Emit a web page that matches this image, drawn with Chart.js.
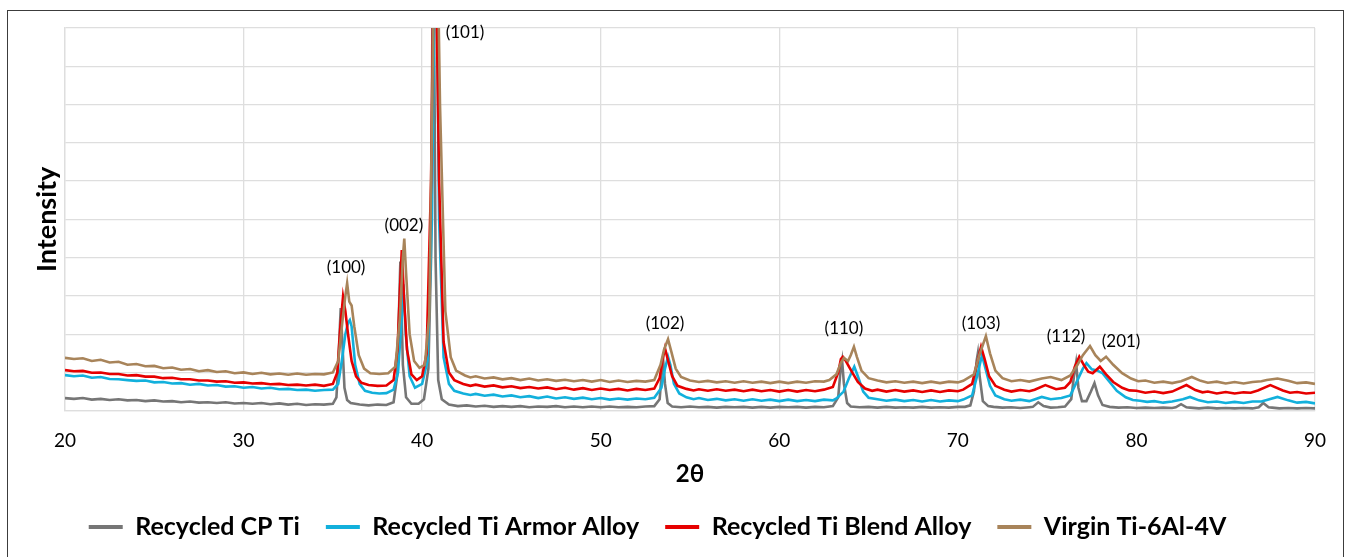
<!DOCTYPE html>
<html>
<head>
<meta charset="utf-8">
<script src="https://cdn.jsdelivr.net/npm/chart.js@4.4.1/dist/chart.umd.min.js"></script>
<style>
  html, body { margin: 0; padding: 0; background: #fff; }
  #wrap { position: relative; width: 1347px; height: 557px; overflow: hidden; }
  #frame { position: absolute; left: 7px; top: 10px; width: 1337px; height: 600px; border: 1.5px solid #3c3c3c; box-sizing: border-box; }
  canvas { position: absolute; left: 0; top: 0; }
</style>
</head>
<body>
<div id="wrap">
  <div id="frame"></div>
  <canvas id="grafico" width="1347" height="557"></canvas>
</div>
<script>
const xTicks = [20, 30, 40, 50, 60, 70, 80, 90];

const seriesNames = ['Recycled CP Ti', 'Recycled Ti Armor Alloy', 'Recycled Ti Blend Alloy', 'Virgin Ti-6Al-4V'];

const cpTi = [[20,0.33],[20.5,0.31],[21,0.33],[21.5,0.29],[22,0.31],[22.5,0.28],[23,0.3],[23.5,0.27],[24,0.28],[24.5,0.25],[25,0.27],[25.5,0.24],[26,0.25],[26.5,0.22],[27,0.24],[27.5,0.21],[28,0.22],[28.5,0.2],[29,0.22],[29.5,0.19],[30,0.2],[30.5,0.18],[31,0.2],[31.5,0.17],[32,0.19],[32.5,0.16],[33,0.18],[33.5,0.15],[34,0.17],[34.5,0.16],[35,0.18],[35.2,0.35],[35.3,1.2],[35.44,2.68],[35.55,1.6],[35.65,0.6],[35.8,0.28],[36,0.2],[36.5,0.16],[37,0.14],[37.5,0.16],[38,0.15],[38.4,0.22],[38.6,0.9],[38.78,3.9],[38.92,1.2],[39.1,0.35],[39.4,0.18],[39.8,0.18],[40.1,0.3],[40.35,1.1],[40.5,4],[40.62,14],[40.75,4],[40.9,0.8],[41.1,0.3],[41.5,0.16],
  [42,0.12],[42.5,0.14],[43,0.11],[43.5,0.13],[44,0.1],[44.5,0.12],[45,0.1],[45.5,0.12],[46,0.09],[46.5,0.11],[47,0.1],[47.5,0.12],[48,0.09],[48.5,0.11],[49,0.09],[49.5,0.11],[50,0.09],[50.5,0.11],[51,0.09],[51.5,0.1],[52,0.09],[52.5,0.11],[53,0.12],[53.3,0.3],[53.42,1.0],[53.5,1.3],[53.6,0.7],[53.75,0.2],
  [54,0.11],[54.5,0.09],[55,0.11],[55.5,0.09],[56,0.1],[56.5,0.08],[57,0.1],[57.5,0.09],[58,0.1],[58.5,0.08],[59,0.1],[59.5,0.08],[60,0.1],[60.5,0.09],[61,0.1],[61.5,0.08],[62,0.1],[62.5,0.09],[63,0.12],[63.3,0.35],[63.42,1.0],[63.52,1.3],[63.62,0.7],[63.8,0.2],
  [64,0.11],[64.5,0.09],[65,0.1],[65.5,0.08],[66,0.1],[66.5,0.08],[67,0.09],[67.5,0.08],[68,0.1],[68.5,0.08],[69,0.09],[69.5,0.08],[70,0.1],[70.4,0.1],[70.7,0.14],[70.9,0.5],[71.05,1.3],[71.12,1.5],[71.22,0.9],[71.4,0.25],[71.7,0.12],[72,0.1],[72.5,0.08],[73,0.09],[73.5,0.07],[74,0.09],[74.2,0.1],[74.5,0.22],[74.8,0.12],[75.2,0.08],[75.6,0.09],[76,0.11],[76.35,0.3],[76.5,0.9],[76.62,1.25],[76.75,0.6],[76.95,0.25],[77.2,0.25],[77.45,0.5],[77.65,0.72],[77.85,0.4],[78.1,0.15],
  [78.5,0.1],[79,0.08],[79.5,0.09],[80,0.07],[80.5,0.08],[81,0.07],[81.5,0.08],[82,0.07],[82.2,0.09],[82.5,0.17],[82.8,0.09],[83,0.08],[83.5,0.06],[84,0.08],[84.5,0.06],[85,0.07],[85.5,0.06],[86,0.07],[86.5,0.06],[86.85,0.09],[87.1,0.2],[87.4,0.09],[87.6,0.08],[88,0.06],[88.5,0.07],[89,0.06],[89.5,0.07],[90,0.06]];

const armorTi = [[20,0.93],[20.5,0.9],[21,0.92],[21.5,0.86],[22,0.88],[22.5,0.83],[23,0.82],[23.5,0.8],[24,0.78],[24.5,0.79],[25,0.74],[25.5,0.75],[26,0.71],[26.5,0.72],[27,0.68],[27.5,0.7],[28,0.66],[28.5,0.67],[29,0.63],[29.5,0.64],[30,0.6],[30.5,0.62],[31,0.58],[31.5,0.6],[32,0.56],[32.5,0.57],[33,0.54],[33.5,0.55],[34,0.52],[34.5,0.54],[35,0.55],[35.3,0.7],[35.5,1.3],[35.7,2.0],[35.85,2.3],[35.95,2.37],[36.05,2.2],[36.25,1.2],[36.5,0.7],[36.8,0.52],[37.2,0.47],[37.6,0.45],[38,0.46],[38.4,0.55],[38.65,1.0],[38.85,2.4],[38.95,3.3],[39.08,2.0],[39.3,0.9],[39.6,0.6],[40,0.7],[40.3,1.3],[40.55,5],[40.75,14],[40.95,5],[41.2,1.4],[41.5,0.7],[41.8,0.52],
  [42.3,0.45],[42.7,0.41],[43,0.44],[43.5,0.39],[44,0.42],[44.5,0.37],[45,0.4],[45.5,0.35],[46,0.38],[46.5,0.33],[47,0.37],[47.5,0.32],[48,0.35],[48.5,0.31],[49,0.34],[49.5,0.3],[50,0.33],[50.5,0.29],[51,0.32],[51.5,0.29],[52,0.32],[52.5,0.3],[53,0.34],[53.4,0.6],[53.6,1.1],[53.77,1.41],[53.9,1.2],[54.1,0.7],[54.4,0.45],
  [54.8,0.35],[55.2,0.3],[55.5,0.33],[56,0.28],[56.5,0.31],[57,0.27],[57.5,0.3],[58,0.26],[58.5,0.3],[59,0.26],[59.5,0.29],[60,0.25],[60.5,0.29],[61,0.25],[61.5,0.28],[62,0.25],[62.5,0.29],[63,0.27],[63.2,0.32],[63.6,0.5],[63.9,0.85],[64.2,1.15],[64.4,0.9],[64.7,0.5],[65,0.34],
  [65.5,0.3],[66,0.26],[66.5,0.29],[67,0.25],[67.5,0.28],[68,0.24],[68.5,0.28],[69,0.24],[69.5,0.27],[70,0.25],[70.3,0.29],[70.8,0.4],[71.1,0.95],[71.35,1.45],[71.55,1.1],[71.8,0.65],[72.1,0.4],
  [72.6,0.3],[73,0.26],[73.5,0.29],[74,0.25],[74.2,0.28],[74.7,0.36],[75.2,0.3],[75.8,0.33],[76.3,0.4],[76.7,0.8],[77.0,1.1],[77.2,1.24],[77.5,1.08],[77.8,1.05],[78.1,0.98],[78.5,0.75],[78.9,0.52],
  [79.4,0.35],[79.8,0.28],[80.2,0.26],[80.6,0.23],[81,0.25],[81.5,0.21],[82,0.24],[82.6,0.3],[83,0.36],[83.5,0.27],[84,0.22],[84.5,0.24],[85,0.2],[85.5,0.23],[86,0.2],[86.5,0.24],[87,0.24],[87.3,0.28],[87.9,0.36],[88.5,0.27],[89,0.21],[89.5,0.23],[90,0.19]];

const blendTi = [[20,1.06],[20.5,1.03],[21,1.04],[21.5,0.99],[22,1.0],[22.5,0.96],[23,0.96],[23.5,0.92],[24,0.93],[24.5,0.89],[25,0.89],[25.5,0.85],[26,0.86],[26.5,0.82],[27,0.82],[27.5,0.79],[28,0.79],[28.5,0.76],[29,0.77],[29.5,0.73],[30,0.74],[30.5,0.71],[31,0.72],[31.5,0.69],[32,0.7],[32.5,0.67],[33,0.68],[33.5,0.66],[34,0.68],[34.5,0.65],[35,0.7],[35.25,1.0],[35.42,2.2],[35.57,2.98],[35.7,2.6],[35.85,2.0],[36.05,1.3],[36.3,0.9],[36.6,0.73],[37,0.67],[37.5,0.65],[38,0.66],[38.4,0.8],[38.62,1.6],[38.78,3.4],[38.86,4.2],[38.98,3.0],[39.15,1.6],[39.4,0.95],[39.7,0.8],[40,0.9],[40.25,1.5],[40.5,6],[40.7,14],[40.95,6],[41.2,1.8],[41.5,1.0],[41.8,0.8],
  [42.3,0.7],[42.7,0.65],[43,0.68],[43.5,0.63],[44,0.66],[44.5,0.61],[45,0.64],[45.5,0.59],[46,0.62],[46.5,0.58],[47,0.61],[47.5,0.56],[48,0.6],[48.5,0.55],[49,0.59],[49.5,0.54],[50,0.58],[50.5,0.54],[51,0.57],[51.5,0.53],[52,0.57],[52.5,0.54],[53,0.58],[53.3,0.85],[53.45,1.3],[53.6,1.63],[53.75,1.35],[54,0.9],[54.3,0.65],
  [54.8,0.57],[55.2,0.53],[55.5,0.56],[56,0.52],[56.5,0.56],[57,0.52],[57.5,0.55],[58,0.51],[58.5,0.55],[59,0.51],[59.5,0.54],[60,0.5],[60.5,0.54],[61,0.5],[61.5,0.54],[62,0.51],[62.5,0.55],[63,0.62],[63.3,1.0],[63.45,1.35],[63.56,1.41],[63.7,1.32],[63.9,1.15],[64.15,0.95],[64.4,0.75],
  [64.8,0.58],[65.2,0.52],[65.5,0.55],[66,0.5],[66.5,0.54],[67,0.5],[67.5,0.53],[68,0.49],[68.5,0.53],[69,0.49],[69.5,0.53],[70,0.51],[70.3,0.55],[70.8,0.7],[71.05,1.2],[71.3,1.67],[71.5,1.35],[71.75,0.9],[72.1,0.65],
  [72.6,0.55],[73,0.5],[73.5,0.54],[74,0.51],[74.3,0.55],[74.9,0.67],[75.5,0.56],[76,0.6],[76.3,0.75],[76.55,1.15],[76.8,1.41],[77.05,1.2],[77.3,1.02],[77.55,0.98],[77.95,1.15],[78.3,0.95],[78.7,0.75],
  [79.2,0.6],[79.6,0.53],[80,0.52],[80.5,0.47],[81,0.5],[81.5,0.46],[82,0.5],[82.8,0.67],[83.3,0.54],[83.7,0.48],[84,0.5],[84.5,0.45],[85,0.49],[85.5,0.45],[86,0.48],[86.4,0.47],[86.8,0.53],[87.5,0.67],[88.2,0.53],[88.6,0.47],[89,0.49],[89.5,0.45],[90,0.47]];

const virginTi = [[20,1.38],[20.5,1.35],[21,1.37],[21.5,1.3],[22,1.33],[22.5,1.26],[23,1.28],[23.5,1.2],[24,1.22],[24.5,1.16],[25,1.17],[25.5,1.11],[26,1.13],[26.5,1.07],[27,1.09],[27.5,1.03],[28,1.06],[28.5,1.01],[29,1.03],[29.5,0.98],[30,1.0],[30.5,0.96],[31,0.99],[31.5,0.95],[32,0.97],[32.5,0.94],[33,0.97],[33.5,0.94],[34,0.96],[34.5,0.95],[35,1.0],[35.3,1.3],[35.55,2.4],[35.7,3.0],[35.8,3.33],[35.92,2.85],[36.05,2.75],[36.2,2.2],[36.45,1.45],[36.75,1.1],[37.1,0.98],[37.6,0.96],[38.1,0.98],[38.5,1.15],[38.75,2.4],[38.92,4.0],[39.0,4.5],[39.1,3.6],[39.3,2.0],[39.55,1.3],[39.85,1.12],[40.15,1.2],[40.4,2.5],[40.62,10],[40.8,14],[41.0,8],[41.3,2.6],[41.6,1.4],[41.9,1.05],
  [42.4,0.92],[42.7,0.87],[43,0.9],[43.5,0.84],[44,0.87],[44.5,0.82],[45,0.85],[45.5,0.8],[46,0.84],[46.5,0.79],[47,0.82],[47.5,0.78],[48,0.81],[48.5,0.77],[49,0.8],[49.5,0.76],[50,0.8],[50.5,0.75],[51,0.79],[51.5,0.75],[52,0.78],[52.5,0.76],[53,0.8],[53.35,1.2],[53.55,1.6],[53.77,1.87],[53.95,1.55],[54.2,1.1],[54.5,0.88],
  [55,0.79],[55.5,0.75],[56,0.78],[56.5,0.74],[57,0.77],[57.5,0.73],[58,0.77],[58.5,0.73],[59,0.76],[59.5,0.72],[60,0.76],[60.5,0.72],[61,0.76],[61.5,0.73],[62,0.77],[62.5,0.76],[62.8,0.8],[63.2,0.95],[63.45,1.25],[63.62,1.38],[63.85,1.3],[64.0,1.45],[64.18,1.67],[64.35,1.4],[64.6,1.05],[65,0.85],
  [65.5,0.79],[66,0.74],[66.5,0.77],[67,0.73],[67.5,0.76],[68,0.72],[68.5,0.76],[69,0.72],[69.5,0.76],[70,0.74],[70.3,0.78],[70.9,0.95],[71.2,1.45],[71.57,1.95],[71.8,1.5],[72.1,1.05],
  [72.5,0.85],[73,0.77],[73.5,0.8],[74,0.76],[74.7,0.84],[75.2,0.88],[75.8,0.8],[76.3,0.92],[76.7,1.2],[77.0,1.45],[77.4,1.69],[77.7,1.45],[78.0,1.3],[78.3,1.41],[78.7,1.2],[79.2,0.98],
  [79.7,0.84],[80.1,0.77],[80.5,0.79],[81,0.73],[81.5,0.76],[82,0.72],[82.5,0.77],[83.1,0.88],[83.6,0.78],[84,0.73],[84.5,0.76],[85,0.71],[85.5,0.75],[86,0.71],[86.5,0.75],[87,0.77],[87.3,0.8],[87.9,0.84],[88.5,0.78],[89,0.72],[89.5,0.74],[90,0.7]];

// Rótulos dos picos (índices de Miller) e onde ficam
const peakLabels = ['(100)', '(002)', '(101)', '(102)', '(110)', '(103)', '(112)', '(201)'];
const peakX = [35.74, 38.98, 42.4, 53.6, 63.62, 71.3, 76.06, 79.14];
const peakY = [3.73, 4.83, 9.87, 2.27, 2.16, 2.27, 1.95, 1.82];

const cores = ['#767676', '#12b0dc', '#e60000', '#a8845a'];
const todasSeries = [cpTi, armorTi, blendTi, virginTi];

// Plugin simples para escrever os rótulos dos picos
const rotulosPicos = {
    id: 'rotulosPicos',
    afterDatasetsDraw(chart) {
        const ctx = chart.ctx;
        const sx = chart.scales.x;
        const sy = chart.scales.y;
        ctx.save();
        ctx.font = '17px Lato';
        ctx.fillStyle = '#000';
        ctx.textAlign = 'center';
        ctx.textBaseline = 'middle';
        peakLabels.forEach((txt, i) => {
            ctx.fillText(txt, sx.getPixelForValue(peakX[i]), sy.getPixelForValue(peakY[i]));
        });
        ctx.restore();
    }
};

const corGrade = '#dedede';

new Chart(document.getElementById('grafico'), {
    type: 'line',
    data: {
        datasets: todasSeries.map((serie, i) => ({
            label: seriesNames[i],
            data: serie,
            borderColor: cores[i],
            backgroundColor: cores[i],
            borderWidth: 2.6,
            pointRadius: 0,
            tension: 0,
            order: 4 - i
        }))
    },
    options: {
        responsive: false,
        animation: false,
        layout: { padding: { left: 0, top: 28, right: 32, bottom: 7.5 } },
        scales: {
            x: {
                type: 'linear',
                min: 20,
                max: 90,
                afterFit(scale) { scale.height = 77.8; },
                afterBuildTicks(scale) { scale.ticks = xTicks.map(v => ({ value: v })); },
                ticks: {
                    font: { family: 'Lato', size: 19 },
                    color: '#000',
                    padding: 19
                },
                grid: { color: corGrade, lineWidth: 1.3, drawTicks: false },
                border: { color: corGrade, width: 1.3 },
                title: {
                    display: true,
                    text: '2θ',
                    font: { family: 'Lato', size: 24, weight: 'bold' },
                    color: '#000',
                    padding: { top: 0, bottom: 0 }
                }
            },
            y: {
                min: 0,
                max: 10,
                afterFit(scale) { scale.width = 65; },
                ticks: { display: false, stepSize: 1 },
                grid: { color: corGrade, lineWidth: 1.3, drawTicks: false },
                border: { color: corGrade, width: 1.3 },
                title: {
                    display: true,
                    text: 'Intensity',
                    font: { family: 'Lato', size: 27, weight: 'bold' },
                    color: '#000',
                    padding: { top: 31, bottom: 0 }
                }
            }
        },
        plugins: {
            tooltip: { enabled: false },
            legend: {
                position: 'bottom',
                labels: {
                    usePointStyle: true,
                    pointStyle: 'line',
                    pointStyleWidth: 34,
                    padding: 26,
                    color: '#000',
                    font: { family: 'Lato', size: 25, weight: 'bold' },
                    sort: (a, b) => a.datasetIndex - b.datasetIndex,
                    generateLabels(chart) {
                        const itens = Chart.defaults.plugins.legend.labels.generateLabels(chart);
                        itens.forEach(it => { it.lineWidth = 4; it.pointStyle = 'line'; });
                        return itens;
                    }
                }
            }
        }
    },
    plugins: [rotulosPicos]
});
</script>
</body>
</html>
